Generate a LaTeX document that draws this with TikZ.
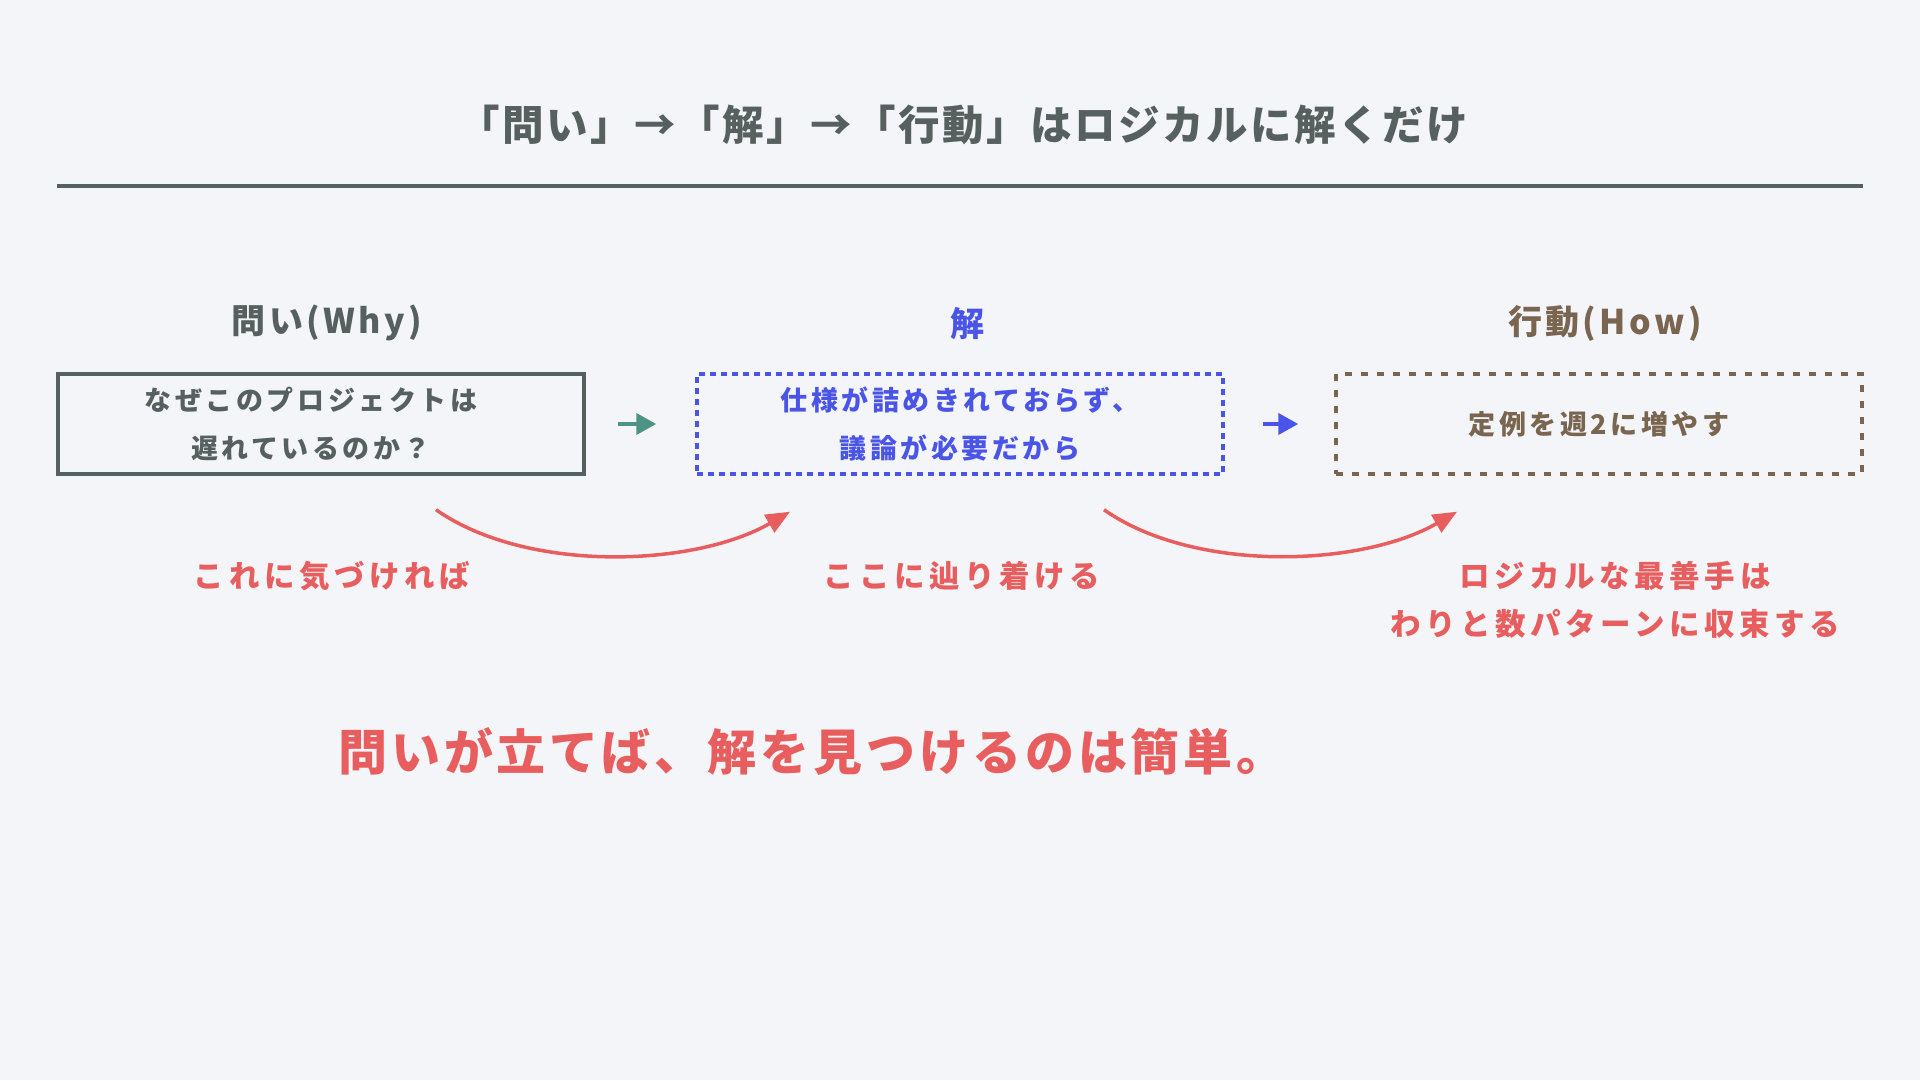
\documentclass[tikz,border=0pt]{standalone}
\usepackage{fontspec}
\setmainfont{Noto Sans CJK JP}
\usetikzlibrary{arrows.meta, positioning, calc}

\definecolor{ink}{HTML}{56605E}
\definecolor{kaiblue}{HTML}{4A55E8}
\definecolor{howbrown}{HTML}{7A6650}
\definecolor{notered}{HTML}{E85E5E}
\definecolor{stepgreen}{HTML}{4E9485}
\definecolor{paper}{HTML}{F3F5F8}

\newcommand{\titlefont}{\fontsize{41.5}{48}\bfseries\addfontfeature{LetterSpace=6}}
\newcommand{\headfont}{\fontsize{34}{40}\bfseries\addfontfeature{LetterSpace=10}}
\newcommand{\boxfont}{\fontsize{27}{48}\bfseries\addfontfeature{LetterSpace=13}}
\newcommand{\notefont}{\fontsize{30.5}{48}\bfseries\addfontfeature{LetterSpace=15}}
\newcommand{\moralfont}{\fontsize{49}{56}\bfseries\addfontfeature{LetterSpace=8}}

\tikzset{
  stagebox/.style={minimum width=526pt, minimum height=100pt, line width=3.5pt,
    align=center, inner sep=0pt, font=\boxfont},
  stagehead/.style={font=\headfont, inner sep=0pt},
  note/.style={notered, font=\notefont, align=center, inner sep=0pt},
  hop/.style={->, line width=4pt},
  swing/.style={notered, line width=3.5pt, -{Triangle[length=24pt, width=20pt]}}
}

\begin{document}
\begin{tikzpicture}[x=1pt, y=1pt, >={Triangle[length=20pt, width=21pt]}]
\fill[paper] (0,0) rectangle (1920,1080);
\useasboundingbox (0,0) rectangle (1920,1080);

% title and rule
\node[text=ink, font=\titlefont, inner sep=0pt] (title) at (963,955)
  {「問い」→「解」→「行動」はロジカルに解くだけ};
\draw[ink, line width=4pt] (57,894) -- (1863,894);

% three stages
\node[stagebox, draw=ink, text=ink] (why) at (321,656)
  {なぜこのプロジェクトは\kern20pt\\遅れているのか？\kern20pt};
\node[stagebox, draw=kaiblue, text=kaiblue, dash pattern=on 6pt off 5pt] (kai) at (960,656)
  {仕様が詰めきれておらず、\\議論が必要だから};
\node[stagebox, draw=howbrown, text=howbrown, dash pattern=on 7pt off 9pt] (how) at (1599,656)
  {定例を週2に増やす};

\node[stagehead, text=ink] (whyhead) at ($(why.north)+(6,49)$) {問い(Why)};
\node[stagehead, text=kaiblue] (kaihead) at ($(kai.north)+(7,49)$) {解};
\node[stagehead, text=howbrown] (howhead) at ($(how.north)+(6,49)$) {行動(How)};

\draw[hop, stepgreen, shorten <=32pt, shorten >=39pt] (why) -- (kai);
\draw[hop, kaiblue, shorten <=38pt, shorten >=36pt] (kai) -- (how);

% curved hints
\coordinate (swingA1) at ($(why.south)+(115,-34)$);
\coordinate (swingA2) at ($(kai.south)+(-170,-36)$);
\coordinate (swingB1) at ($(kai.south)+(144,-34)$);
\coordinate (swingB2) at ($(how.south)+(-142,-36)$);
\draw[swing] (swingA1) to[out=-35, in=-150, looseness=0.8] (swingA2);
\draw[swing] (swingB1) to[out=-35, in=-150, looseness=0.8] (swingB2);

\node[note] (noteA) at (332,504) {これに気づければ};
\node[note] (noteB) at (962,504) {ここに辿り着ける};
\node[note] (noteC) at (1615,480) {ロジカルな最善手は\\わりと数パターンに収束する};

\node[text=notered, font=\moralfont, inner sep=0pt] (moral) at (812,329)
  {問いが立てば、解を見つけるのは簡単。};
\end{tikzpicture}
\end{document}
